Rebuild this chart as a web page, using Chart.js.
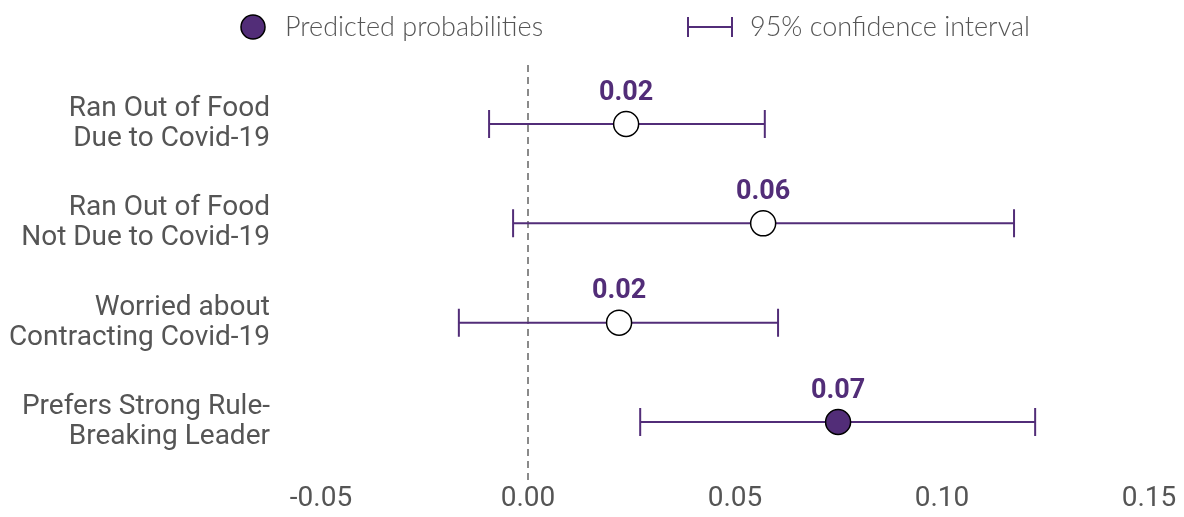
<!DOCTYPE html>
<html>
<head>
<meta charset="utf-8">
<script src="https://cdn.jsdelivr.net/npm/chart.js@4"></script>
<style>
  body { margin: 0; background: #fff; }
  #wrap { width: 1184px; height: 517px; }
</style>
</head>
<body>
<div id="wrap"><canvas id="forestChart"></canvas></div>
<script>
// datos
const categories = [
  ["Ran Out of Food", "Due to Covid-19"],
  ["Ran Out of Food", "Not Due to Covid-19"],
  ["Worried about", "Contracting Covid-19"],
  ["Prefers Strong Rule-", "Breaking Leader"]
];
const estimates = [0.0237, 0.0568, 0.0220, 0.0749];
const lower = [-0.0094, -0.0036, -0.0167, 0.0271];
const upper = [0.0572, 0.1174, 0.0604, 0.1225];
const valueLabels = ["0.02", "0.06", "0.02", "0.07"];
const significant = [false, false, false, true];
const xTicks = [-0.05, 0, 0.05, 0.10, 0.15];
const legendLabels = ["Predicted probabilities", "95% confidence interval"];

const purple = "#522d78";
const grey = "#555555";

// una serie por intervalo de confianza (linea con topes verticales)
const ciDatasets = categories.map((c, i) => ({
  data: [{ x: lower[i], y: i }, { x: upper[i], y: i }],
  showLine: true,
  borderColor: purple,
  borderWidth: 2,
  pointStyle: "line",
  rotation: 90,
  pointRadius: 14,
  pointBorderWidth: 2,
  pointBorderColor: purple,
  order: 2
}));

const pointDataset = {
  data: estimates.map((v, i) => ({ x: v, y: i })),
  pointRadius: 12.5,
  pointBackgroundColor: significant.map(s => (s ? purple : "#ffffff")),
  pointBorderColor: "#000000",
  pointBorderWidth: 1.5,
  order: 0
};

const extras = {
  id: "extras",
  afterDatasetsDraw(chart) {
    const { ctx, scales } = chart;
    ctx.save();
    // etiquetas de valor
    ctx.fillStyle = purple;
    ctx.font = "bold 27px Roboto";
    ctx.textAlign = "center";
    ctx.textBaseline = "middle";
    estimates.forEach((v, i) => {
      ctx.fillText(valueLabels[i], scales.x.getPixelForValue(v), scales.y.getPixelForValue(i) - 31);
    });

    // leyenda
    const ly = 27;
    ctx.beginPath();
    ctx.arc(253, ly, 12, 0, Math.PI * 2);
    ctx.fillStyle = purple;
    ctx.fill();
    ctx.lineWidth = 1.5;
    ctx.strokeStyle = "#000";
    ctx.stroke();

    ctx.strokeStyle = purple;
    ctx.lineWidth = 2;
    ctx.beginPath();
    ctx.moveTo(688, ly); ctx.lineTo(732, ly);
    ctx.moveTo(688, ly - 10); ctx.lineTo(688, ly + 10);
    ctx.moveTo(732, ly - 10); ctx.lineTo(732, ly + 10);
    ctx.stroke();

    ctx.fillStyle = grey;
    ctx.font = "300 27px Lato";
    ctx.textAlign = "left";
    ctx.fillText(legendLabels[0], 285, ly);
    ctx.fillText(legendLabels[1], 750, ly);
    ctx.restore();
  }
};

const ctx = document.getElementById("forestChart").getContext("2d");
new Chart(ctx, {
  type: "scatter",
  data: { datasets: [pointDataset, ...ciDatasets] },
  options: {
    responsive: true,
    maintainAspectRatio: false,
    animation: false,
    layout: { padding: { top: 65, right: 35, left: 0, bottom: 0 } },
    plugins: { legend: { display: false }, tooltip: { enabled: false } },
    scales: {
      x: {
        type: "linear",
        min: -0.05,
        max: 0.15,
        afterBuildTicks: s => { s.ticks = xTicks.map(v => ({ value: v })); },
        afterFit: s => { s.paddingLeft = 0; s.paddingRight = 0; },
        ticks: {
          color: grey,
          font: { family: "Roboto", size: 28 },
          padding: 1,
          callback: v => v.toFixed(2)
        },
        grid: {
          drawTicks: false,
          lineWidth: 2,
          color: c => (c.tick && c.tick.value === 0 ? "#8a8a8a" : "rgba(0,0,0,0)")
        },
        border: { display: false, dash: [7, 5] }
      },
      y: {
        type: "linear",
        reverse: true,
        min: -0.594,
        max: 3.598,
        afterBuildTicks: s => { s.ticks = categories.map((c, i) => ({ value: i })); },
        afterFit: s => { s.width = 321; s.paddingTop = 0; s.paddingBottom = 0; },
        ticks: {
          color: grey,
          font: { family: "Roboto", size: 28, lineHeight: 1.07 },
          padding: 51,
          callback: v => categories[v]
        },
        grid: { display: false, drawTicks: false },
        border: { display: false }
      }
    }
  },
  plugins: [extras]
});
</script>
</body>
</html>
